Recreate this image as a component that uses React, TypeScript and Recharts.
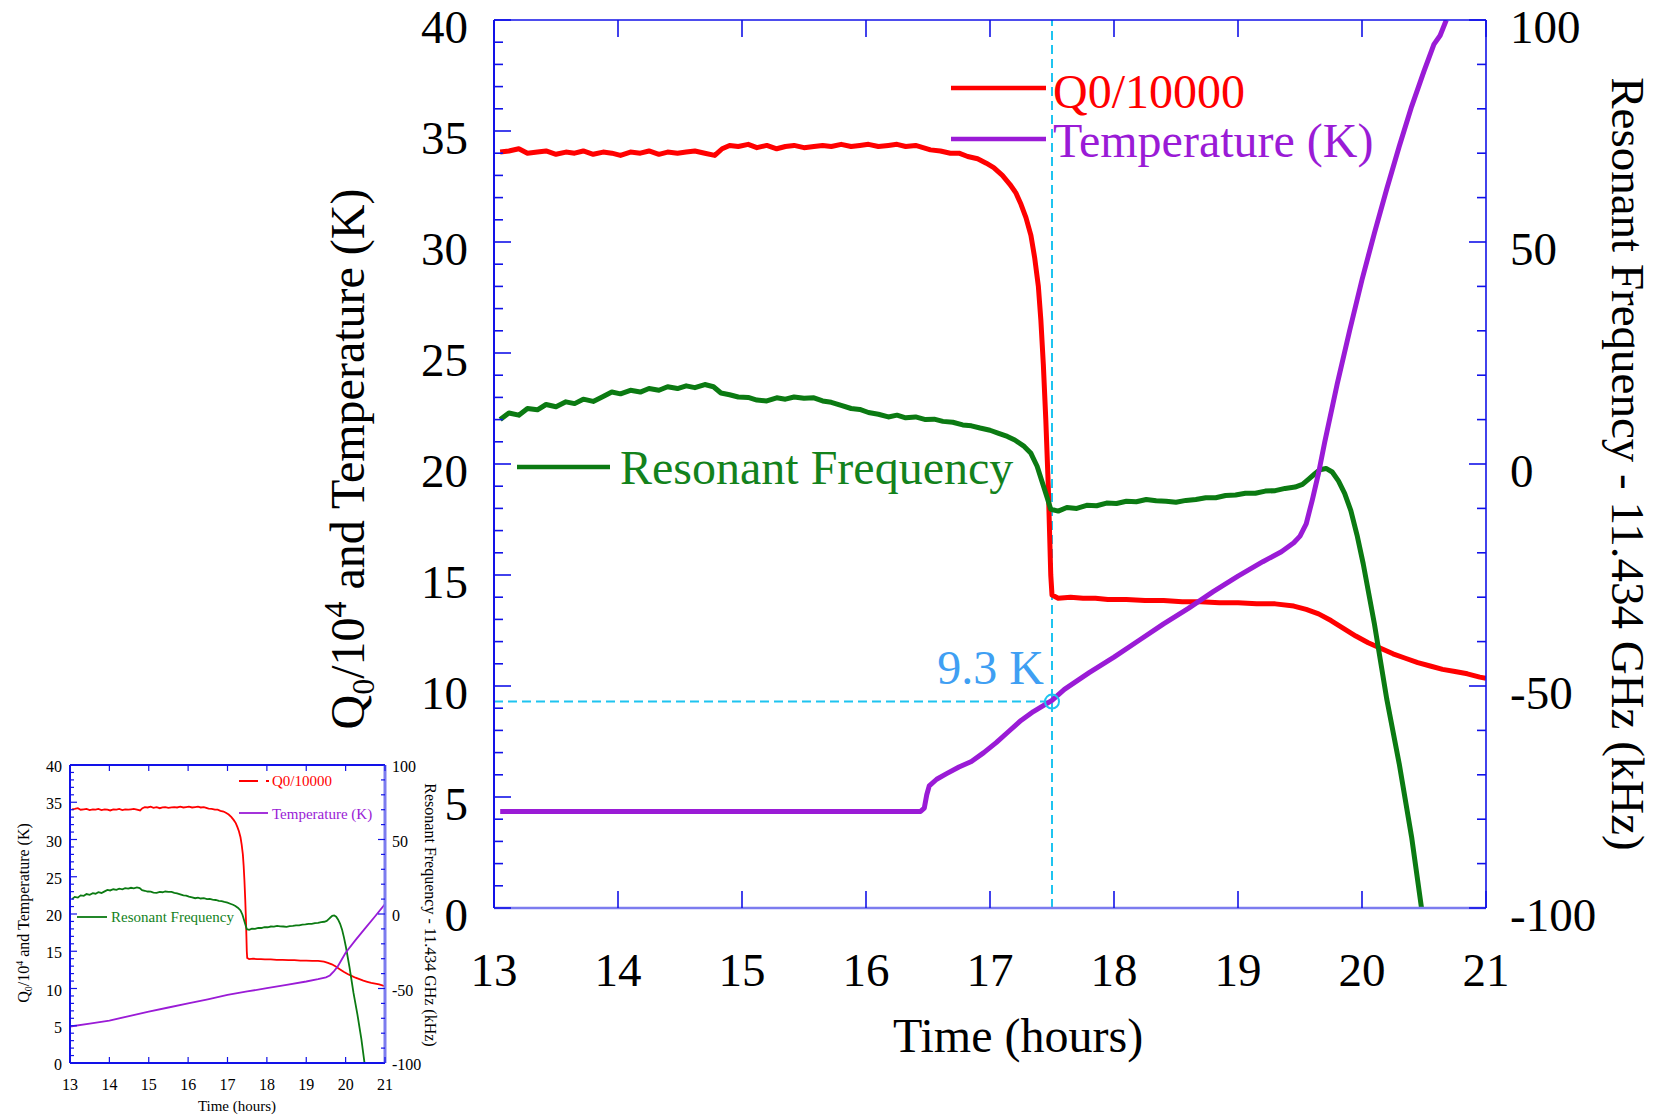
import React from 'react'
import { LineChart, Line, XAxis, YAxis, ReferenceLine, ReferenceDot } from 'recharts'

// Time axis (hours) and tick values
const hourTicks = [13, 14, 15, 16, 17, 18, 19, 20, 21]
const leftMajors = [0, 5, 10, 15, 20, 25, 30, 35, 40]
const rightMajors = [-100, -50, 0, 50, 100]
const leftTicks = Array.from({ length: 41 }, (_, i) => i)
const rightTicks = Array.from({ length: 21 }, (_, i) => -100 + i * 10)

const seriesNames = ['Q0/10000', 'Temperature (K)', 'Resonant Frequency']

// Q0 / 10^4 vs time (h)
const q0Series: [number, number][] = [
  [13.05, 34.05], [13.12, 34.1], [13.2, 34.2], [13.27, 34.0], [13.35, 34.05], [13.42, 34.1],
  [13.5, 33.95], [13.58, 34.05], [13.65, 34.0], [13.72, 34.1], [13.8, 33.95], [13.88, 34.05],
  [13.95, 34.0], [14.02, 33.9], [14.1, 34.05], [14.18, 34.0], [14.25, 34.1], [14.33, 33.95],
  [14.4, 34.05], [14.48, 34.0], [14.55, 34.05], [14.62, 34.1], [14.7, 34.0], [14.78, 33.9],
  [14.84, 34.2], [14.9, 34.35], [14.97, 34.3], [15.05, 34.4], [15.12, 34.25], [15.2, 34.35],
  [15.28, 34.2], [15.35, 34.3], [15.42, 34.35], [15.5, 34.25], [15.58, 34.3], [15.65, 34.35],
  [15.72, 34.3], [15.8, 34.4], [15.88, 34.3], [15.95, 34.35], [16.02, 34.4], [16.1, 34.3],
  [16.18, 34.35], [16.25, 34.4], [16.32, 34.3], [16.4, 34.35], [16.46, 34.25], [16.52, 34.15],
  [16.6, 34.1], [16.68, 34.0], [16.75, 34.0], [16.82, 33.85], [16.9, 33.75], [16.97, 33.55],
  [17.03, 33.35], [17.1, 33.0], [17.16, 32.6], [17.21, 32.2], [17.25, 31.7], [17.29, 31.1],
  [17.33, 30.3], [17.36, 29.3], [17.39, 28.0], [17.41, 26.5], [17.43, 24.5], [17.45, 22.0],
  [17.47, 19.0], [17.48, 17.0], [17.49, 15.0], [17.5, 14.1], [17.55, 13.95], [17.65, 14.0],
  [17.75, 13.95], [17.85, 13.95], [17.95, 13.9], [18.1, 13.9], [18.25, 13.85], [18.4, 13.85],
  [18.55, 13.8], [18.7, 13.8], [18.85, 13.75], [19.0, 13.75], [19.15, 13.7], [19.3, 13.7],
  [19.45, 13.6], [19.55, 13.45], [19.65, 13.25], [19.75, 12.95], [19.85, 12.6], [19.95, 12.25],
  [20.05, 11.95], [20.15, 11.7], [20.25, 11.45], [20.35, 11.25], [20.45, 11.05], [20.55, 10.9],
  [20.65, 10.75], [20.75, 10.65], [20.85, 10.55], [20.95, 10.4], [21.0, 10.35],
]

// Sample temperature (K) vs time (h)
const tempSeries: [number, number][] = [
  [13.05, 4.35], [14.0, 4.35], [15.0, 4.35], [16.0, 4.35], [16.44, 4.35], [16.47, 4.5],
  [16.49, 5.1], [16.51, 5.5], [16.57, 5.8], [16.65, 6.05], [16.75, 6.35], [16.85, 6.6],
  [16.95, 7.0], [17.05, 7.45], [17.15, 7.95], [17.25, 8.45], [17.35, 8.85], [17.5, 9.35],
  [17.6, 9.85], [17.8, 10.6], [18.0, 11.3], [18.2, 12.05], [18.4, 12.8], [18.6, 13.5],
  [18.8, 14.25], [19.0, 14.95], [19.2, 15.6], [19.35, 16.05], [19.45, 16.45], [19.5, 16.75],
  [19.55, 17.3], [19.6, 18.4], [19.65, 19.6], [19.7, 21.0], [19.8, 23.6], [19.9, 26.0],
  [20.0, 28.3], [20.1, 30.4], [20.2, 32.4], [20.3, 34.3], [20.4, 36.1], [20.5, 37.7],
  [20.58, 38.9], [20.63, 39.3], [20.68, 40.0],
]

// Resonant frequency - 11.434 GHz (kHz) vs time (h)
const freqSeries: [number, number][] = [
  [13.05, 10.0], [13.12, 11.5], [13.2, 11.0], [13.27, 12.5], [13.35, 12.2], [13.42, 13.4],
  [13.5, 12.9], [13.58, 14.0], [13.65, 13.6], [13.72, 14.6], [13.8, 14.1], [13.88, 15.2],
  [13.95, 16.2], [14.02, 15.8], [14.1, 16.6], [14.18, 16.2], [14.25, 17.0], [14.33, 16.6],
  [14.4, 17.4], [14.48, 17.0], [14.55, 17.6], [14.62, 17.2], [14.7, 17.9], [14.77, 17.4],
  [14.83, 16.0], [14.9, 15.6], [14.97, 15.1], [15.05, 15.0], [15.12, 14.4], [15.2, 14.2],
  [15.28, 14.9], [15.35, 14.6], [15.42, 15.1], [15.5, 14.8], [15.58, 14.9], [15.65, 14.2],
  [15.72, 13.9], [15.8, 13.2], [15.88, 12.5], [15.95, 12.3], [16.02, 11.6], [16.1, 11.2],
  [16.18, 10.6], [16.25, 11.0], [16.32, 10.4], [16.4, 10.6], [16.48, 10.0], [16.55, 10.1],
  [16.62, 9.6], [16.7, 9.4], [16.78, 8.8], [16.85, 8.6], [16.92, 8.1], [17.0, 7.6],
  [17.07, 6.9], [17.14, 6.2], [17.2, 5.4], [17.27, 4.1], [17.33, 2.4], [17.38, -0.5],
  [17.42, -4.0], [17.46, -7.5], [17.49, -10.2], [17.55, -10.6], [17.62, -9.8], [17.7, -10.0],
  [17.78, -9.3], [17.86, -9.4], [17.94, -8.8], [18.02, -8.9], [18.1, -8.4], [18.18, -8.5],
  [18.26, -8.0], [18.34, -8.3], [18.42, -8.4], [18.5, -8.6], [18.58, -8.2], [18.66, -8.0],
  [18.74, -7.6], [18.82, -7.6], [18.9, -7.1], [18.98, -7.0], [19.06, -6.6], [19.14, -6.6],
  [19.22, -6.1], [19.3, -6.0], [19.38, -5.5], [19.46, -5.2], [19.52, -4.6], [19.57, -3.4],
  [19.62, -2.2], [19.66, -1.3], [19.71, -1.0], [19.76, -1.8], [19.81, -3.8], [19.86, -6.6],
  [19.91, -10.5], [19.96, -16.0], [20.01, -22.5], [20.1, -36.0], [20.2, -53.0], [20.3, -67.5],
  [20.4, -84.0], [20.48, -100.0],
]

// Temperature trace of the small overview plot
const insetTempSeries: [number, number][] = [
  [13.0, 4.9], [13.5, 5.3], [14.0, 5.7], [14.5, 6.3], [15.0, 6.9], [15.5, 7.45], [16.0, 8.0],
  [16.5, 8.55], [17.0, 9.15], [17.5, 9.6], [18.0, 10.05], [18.5, 10.5], [19.0, 10.94],
  [19.3, 11.25], [19.5, 11.5], [19.6, 11.75], [19.7, 12.3], [19.8, 12.95], [20.0, 14.8],
  [20.25, 16.5], [20.5, 18.1], [20.75, 19.7], [21.0, 21.35],
]

// Critical temperature marker
const markerTime = 17.5
const markerTemp = 9.3

const toRows = (s: [number, number][]) => s.map(([h, v]) => ({ h, v }))
const q0Rows = toRows(q0Series)
const tempRows = toRows(tempSeries)
const freqRows = toRows(freqSeries)
const insetTempRows = toRows(insetTempSeries)

const SERIF = '"Liberation Serif", "Times New Roman", serif'
const RED = '#ff0000'
const PURPLE = '#9a1bd6'
const GREEN = '#0b7a12'
const GREEN_TEXT = '#13821c'
const CYAN = '#1ec4f0'
const MARK_BLUE = '#3f9ff3'
const AXIS = '#1212e8'
const AXIS_LIGHT = '#7c7cef'

type Side = 'left' | 'right' | 'top' | 'bottom'
interface TickOpts {
  majors: number[]
  majorLen: number
  minorLen: number
  font: number
  gap: number
  dy: number
  labels: boolean
  width: number
}

// ticks point into the plot; tickSize/tickMargin are 0 so (x, y) sits on the axis line
const makeTick = (side: Side, o: TickOpts) => (props: any) => {
  const { x, y, payload } = props
  const v = payload.value
  const major = o.majors.includes(v)
  const len = major ? o.majorLen : o.minorLen
  let line: React.ReactNode
  let label: React.ReactNode = null
  if (side === 'left') {
    line = <line x1={x} x2={x + len} y1={y} y2={y} />
    if (major && o.labels)
      label = <text x={x - o.gap} y={y + o.dy} textAnchor="end">{String(v)}</text>
  } else if (side === 'right') {
    line = <line x1={x} x2={x - len} y1={y} y2={y} />
    if (major && o.labels)
      label = <text x={x + o.gap} y={y + o.dy} textAnchor="start">{String(v)}</text>
  } else if (side === 'top') {
    line = <line x1={x} x2={x} y1={y} y2={y + len} />
  } else {
    line = <line x1={x} x2={x} y1={y} y2={y - len} />
    if (major && o.labels)
      label = <text x={x} y={y + o.gap} textAnchor="middle">{String(v)}</text>
  }
  return (
    <g>
      <g stroke={AXIS} strokeWidth={o.width}>{line}</g>
      {label && (
        <g fill="#000" fontFamily={SERIF} fontSize={o.font} stroke="none">
          {label}
        </g>
      )}
    </g>
  )
}

function MainChart() {
  const big = { font: 47, width: 1.6, labels: true }
  return (
    <LineChart width={1655} height={1116} margin={{ top: 19, right: 109, bottom: 148, left: 434 }}>
      <XAxis
        xAxisId="b" type="number" dataKey="h" domain={[13, 21]} ticks={hourTicks} interval={0}
        allowDataOverflow height={60} tickSize={0} tickMargin={0} tickLine={false}
        axisLine={{ stroke: AXIS_LIGHT, strokeWidth: 2.5 }}
        tick={makeTick('bottom', { ...big, majors: hourTicks, majorLen: 17, minorLen: 17, gap: 78, dy: 0 })}
      />
      <XAxis
        xAxisId="t" orientation="top" type="number" dataKey="h" domain={[13, 21]} ticks={hourTicks}
        interval={0} allowDataOverflow height={1} tickSize={0} tickMargin={0} tickLine={false}
        axisLine={{ stroke: AXIS, strokeWidth: 1.6 }}
        tick={makeTick('top', { ...big, labels: false, majors: hourTicks, majorLen: 17, minorLen: 17, gap: 0, dy: 0 })}
      />
      <YAxis
        yAxisId="l" type="number" domain={[0, 40]} ticks={leftTicks} interval={0} allowDataOverflow
        width={60} tickSize={0} tickMargin={0} tickLine={false}
        axisLine={{ stroke: AXIS, strokeWidth: 2 }}
        tick={makeTick('left', { ...big, majors: leftMajors, majorLen: 17, minorLen: 9, gap: 26, dy: 23 })}
      />
      <YAxis
        yAxisId="r" orientation="right" type="number" domain={[-100, 100]} ticks={rightTicks} interval={0}
        allowDataOverflow width={60} tickSize={0} tickMargin={0} tickLine={false}
        axisLine={{ stroke: AXIS, strokeWidth: 1.6 }}
        tick={makeTick('right', { ...big, majors: rightMajors, majorLen: 17, minorLen: 9, gap: 24, dy: 23 })}
      />
      <ReferenceLine xAxisId="b" yAxisId="l" x={markerTime} stroke={CYAN} strokeWidth={2} strokeDasharray="9 5" />
      <ReferenceLine
        xAxisId="b" yAxisId="l"
        segment={[{ x: 13, y: markerTemp }, { x: markerTime, y: markerTemp }]}
        stroke={CYAN} strokeWidth={2} strokeDasharray="9 5"
      />
      <Line
        xAxisId="b" yAxisId="l" data={q0Rows} dataKey="v" name={seriesNames[0]} type="linear"
        stroke={RED} strokeWidth={5} dot={false} isAnimationActive={false} strokeLinejoin="round"
      />
      <Line
        xAxisId="b" yAxisId="r" data={freqRows} dataKey="v" name={seriesNames[2]} type="linear"
        stroke={GREEN} strokeWidth={5} dot={false} isAnimationActive={false} strokeLinejoin="round"
      />
      <Line
        xAxisId="b" yAxisId="l" data={tempRows} dataKey="v" name={seriesNames[1]} type="linear"
        stroke={PURPLE} strokeWidth={5} dot={false} isAnimationActive={false} strokeLinejoin="round"
      />
      <ReferenceDot
        xAxisId="b" yAxisId="l" x={markerTime} y={markerTemp} r={7}
        shape={(p: any) => (
          <g>
            <circle cx={p.cx} cy={p.cy} r={7} fill="none" stroke={CYAN} strokeWidth={2} />
            <text x={p.cx - 8} y={p.cy - 18} textAnchor="end" fontFamily={SERIF} fontSize={48} fill={MARK_BLUE}>
              {`${markerTemp} K`}
            </text>
          </g>
        )}
      />
    </LineChart>
  )
}

function InsetChart() {
  const small = { font: 16, width: 1.2, labels: true }
  return (
    <LineChart width={445} height={366} margin={{ top: 14, right: 10, bottom: 13, left: 20 }}>
      <XAxis
        xAxisId="b" type="number" dataKey="h" domain={[13, 21]} ticks={hourTicks} interval={0}
        allowDataOverflow height={40} tickSize={0} tickMargin={0} tickLine={false}
        axisLine={{ stroke: AXIS, strokeWidth: 2 }}
        tick={makeTick('bottom', { ...small, majors: hourTicks, majorLen: 6, minorLen: 6, gap: 27, dy: 0 })}
      />
      <XAxis
        xAxisId="t" orientation="top" type="number" dataKey="h" domain={[13, 21]} ticks={hourTicks}
        interval={0} allowDataOverflow height={1} tickSize={0} tickMargin={0} tickLine={false}
        axisLine={{ stroke: AXIS, strokeWidth: 2 }}
        tick={makeTick('top', { ...small, labels: false, majors: hourTicks, majorLen: 6, minorLen: 6, gap: 0, dy: 0 })}
      />
      <YAxis
        yAxisId="l" type="number" domain={[0, 40]} ticks={leftTicks} interval={0} allowDataOverflow
        width={50} tickSize={0} tickMargin={0} tickLine={false}
        axisLine={{ stroke: AXIS, strokeWidth: 2 }}
        tick={makeTick('left', { ...small, majors: leftMajors, majorLen: 7, minorLen: 4, gap: 8, dy: 7 })}
      />
      <YAxis
        yAxisId="r" orientation="right" type="number" domain={[-100, 100]} ticks={rightTicks} interval={0}
        allowDataOverflow width={50} tickSize={0} tickMargin={0} tickLine={false}
        axisLine={{ stroke: AXIS_LIGHT, strokeWidth: 3 }}
        tick={makeTick('right', { ...small, majors: rightMajors, majorLen: 7, minorLen: 4, gap: 7, dy: 7 })}
      />
      <Line
        xAxisId="b" yAxisId="l" data={q0Rows} dataKey="v" name={seriesNames[0]} type="linear"
        stroke={RED} strokeWidth={1.8} dot={false} isAnimationActive={false}
      />
      <Line
        xAxisId="b" yAxisId="r" data={freqRows} dataKey="v" name={seriesNames[2]} type="linear"
        stroke={GREEN} strokeWidth={1.8} dot={false} isAnimationActive={false}
      />
      <Line
        xAxisId="b" yAxisId="l" data={insetTempRows} dataKey="v" name={seriesNames[1]} type="linear"
        stroke={PURPLE} strokeWidth={1.8} dot={false} isAnimationActive={false}
      />
    </LineChart>
  )
}

// axis titles and in-plot legend entries for both plots
function Annotations() {
  return (
    <svg width={1655} height={1116} style={{ position: 'absolute', left: 0, top: 0, pointerEvents: 'none' }}>
      <g fontFamily={SERIF}>
        {/* main plot */}
        <text x={1018} y={1052} fontSize={48} textAnchor="middle">Time (hours)</text>
        <text x={364} y={459} fontSize={48} textAnchor="middle" transform="rotate(-90 364 459)">
          Q<tspan fontSize={32} dy={10}>0</tspan>
          <tspan dy={-10}>/10</tspan>
          <tspan fontSize={32} dy={-18}>4</tspan>
          <tspan dy={18}> and Temperature (K)</tspan>
        </text>
        <text x={1612} y={464} fontSize={47} textAnchor="middle" transform="rotate(90 1612 464)">
          Resonant Frequency - 11.434 GHz (kHz)
        </text>
        <line x1={951} x2={1046} y1={88} y2={88} stroke={RED} strokeWidth={4.5} />
        <text x={1053} y={108} fontSize={48} fill={RED}>{seriesNames[0]}</text>
        <line x1={951} x2={1046} y1={139} y2={139} stroke={PURPLE} strokeWidth={4.5} />
        <text x={1053} y={157} fontSize={48} fill={PURPLE}>{seriesNames[1]}</text>
        <line x1={517} x2={610} y1={467} y2={467} stroke={GREEN} strokeWidth={4.5} />
        <text x={620} y={484} fontSize={48} fill={GREEN_TEXT}>{seriesNames[2]}</text>

        {/* overview plot */}
        <text x={237} y={1111} fontSize={15} textAnchor="middle">Time (hours)</text>
        <text x={29} y={913} fontSize={16} textAnchor="middle" transform="rotate(-90 29 913)">
          Q<tspan fontSize={10} dy={3}>0</tspan>
          <tspan dy={-3}>/10</tspan>
          <tspan fontSize={10} dy={-6}>4</tspan>
          <tspan dy={6}> and Temperature (K)</tspan>
        </text>
        <text x={425} y={915} fontSize={16} textAnchor="middle" transform="rotate(90 425 915)">
          Resonant Frequency - 11.434 GHz (kHz)
        </text>
        <line x1={239} x2={270} y1={781} y2={781} stroke={RED} strokeWidth={1.8} strokeDasharray="19 8 3 40" />
        <text x={272} y={786} fontSize={15} fill={RED}>{seriesNames[0]}</text>
        <line x1={239} x2={268} y1={813} y2={813} stroke={PURPLE} strokeWidth={1.8} />
        <text x={272} y={819} fontSize={15} fill={PURPLE}>{seriesNames[1]}</text>
        <line x1={77} x2={107} y1={917} y2={917} stroke={GREEN} strokeWidth={1.8} />
        <text x={111} y={922} fontSize={15} fill={GREEN_TEXT}>{seriesNames[2]}</text>
      </g>
    </svg>
  )
}

export default function App() {
  return (
    <div style={{ position: 'absolute', left: 0, top: 0, width: 1655, height: 1116, background: '#fff' }}>
      <MainChart />
      <div style={{ position: 'absolute', left: 0, top: 750 }}>
        <InsetChart />
      </div>
      <Annotations />
    </div>
  )
}
